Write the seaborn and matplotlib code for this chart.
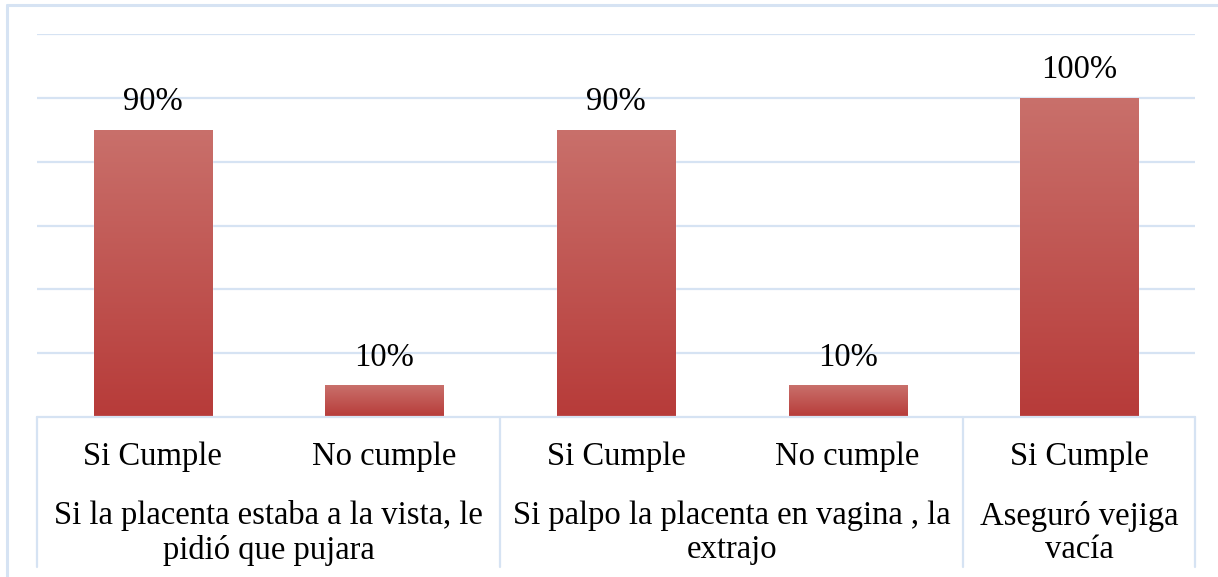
import numpy as np
import pandas as pd
import matplotlib
matplotlib.use("Agg")
import matplotlib.pyplot as plt
import seaborn as sns
from matplotlib.colors import LinearSegmentedColormap

sub_labels = ["Si Cumple", "No cumple", "Si Cumple", "No cumple", "Si Cumple"]
values = [90, 10, 90, 10, 100]
group_labels = ["Si la placenta estaba a la vista, le\npidió que pujara",
                "Si palpo la placenta en vagina , la\nextrajo",
                "Aseguró vejiga\nvacía"]
group_sizes = [2, 2, 1]

sns.set_theme(style="white")
plt.rcParams['font.family'] = ['Liberation Serif', 'DejaVu Serif']

df = pd.DataFrame({"idx": list(range(len(values))), "label": sub_labels, "value": values})

W, H = 1218, 577
FS = 23.5
fig = plt.figure(figsize=(W / 100, H / 100), dpi=100)
ax = fig.add_axes([37 / W, (H - 417) / H, (1195 - 37) / W, (417 - 34) / H])

grid_c = "#D6E3F3"
sns.barplot(data=df, x="idx", y="value", ax=ax, color="#C0504D", width=0.51,
            saturation=1, zorder=3, order=list(range(len(values))))
ax.set_ylim(0, 120)
ax.set_xlim(-0.5, len(values) - 0.5)
ax.set_yticks(np.arange(20, 121, 20))
ax.yaxis.grid(True, color=grid_c, linewidth=1.6, zorder=0)
ax.set_axisbelow(True)
for s in ax.spines.values():
    s.set_visible(False)
ax.set_xticks([])
ax.set_yticklabels([])
ax.tick_params(left=False, bottom=False)
ax.set_xlabel("")
ax.set_ylabel("")

# gradient fill on bars
cmap = LinearSegmentedColormap.from_list("g", ["#B73B39", "#C9706B"])
grad = np.linspace(0, 1, 256).reshape(-1, 1)
for p in list(ax.patches):
    x0, y0 = p.get_x(), p.get_y()
    w, h = p.get_width(), p.get_height()
    im = ax.imshow(grad, cmap=cmap, aspect="auto", origin="lower",
                   extent=[x0, x0 + w, y0, y0 + h], zorder=4)
    im.set_clip_path(p)
    ax.annotate(f"{int(round(h))}%", (x0 + w / 2, h), xytext=(0, 9),
                textcoords="offset points", ha="center", va="bottom",
                fontsize=FS, color="black", zorder=5)
ax.set_xlim(-0.5, len(values) - 0.5)
ax.set_ylim(0, 120)

# baseline
ax.axhline(0, color=grid_c, linewidth=1.6, zorder=6, clip_on=False)

# multi-level category axis
trans = ax.get_xaxis_transform()
ax_h_px = 417 - 34
def yfrac(py):
    return (417 - py) / ax_h_px

for i, lab in enumerate(sub_labels):
    ax.text(i, yfrac(457), lab, transform=trans, ha="center", va="center",
            fontsize=FS, color="black")

bounds = [-0.5]
for n in group_sizes:
    bounds.append(bounds[-1] + n)
for b in bounds:
    ax.plot([b, b], [0, yfrac(567)], transform=trans, color=grid_c,
            linewidth=1.6, clip_on=False)
for gi, lab in enumerate(group_labels):
    c = (bounds[gi] + bounds[gi + 1]) / 2
    ax.text(c, yfrac(533), lab, transform=trans, ha="center", va="center",
            fontsize=FS, color="black", linespacing=1.14)

# outer chart border
fig.add_artist(plt.Line2D([7 / W, 7 / W], [0, 1 - 5 / H], transform=fig.transFigure,
                          color=grid_c, linewidth=2.2))
fig.add_artist(plt.Line2D([7 / W, 1], [1 - 5 / H, 1 - 5 / H], transform=fig.transFigure,
                          color=grid_c, linewidth=2.2))

fig.savefig("out.png", dpi=100)
